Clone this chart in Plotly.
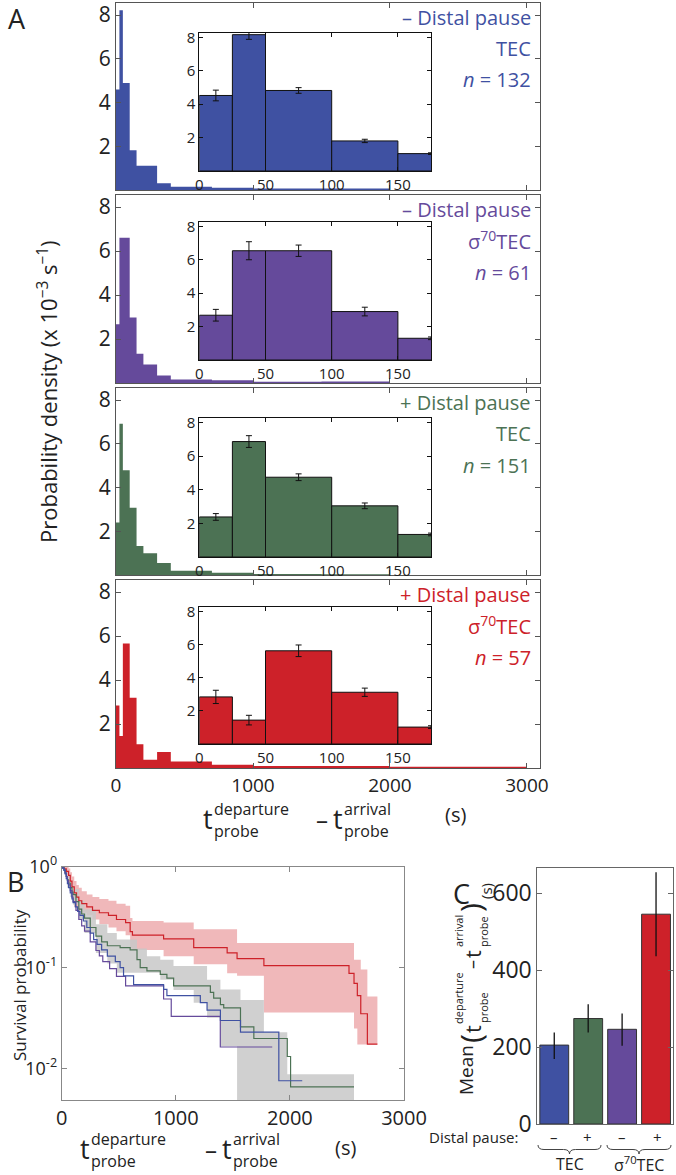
import plotly.graph_objects as go

W, H = 676, 1175
FONT = "Open Sans"
INK = "#222222"

# ---------------- data ----------------
pause_labels = ["– Distal pause", "– Distal pause", "+ Distal pause", "+ Distal pause"]
complex_labels = ["TEC", "σ<sup>70</sup>TEC", "TEC", "σ<sup>70</sup>TEC"]
n_values = [132, 61, 151, 57]
colors = ["#3F51A2", "#654A9B", "#4C7254", "#CD2129"]

# main histograms (density, x 1e-3 s^-1)
hist_edges = [0, 25, 50, 100, 150, 200, 300, 400, 700, 1000, 1500, 2000, 3000]
tec_minus = [4.59, 8.22, 4.89, 1.82, 1.11, 1.11, 0.31, 0.15, 0.10, 0.07, 0.07, 0.0]
sig_minus = [2.67, 6.61, 6.61, 2.98, 1.33, 0.84, 0.34, 0.16, 0.12, 0.06, 0.07, 0.0]
tec_plus = [2.40, 6.92, 4.79, 3.07, 1.33, 0.99, 0.55, 0.19, 0.10, 0.05, 0.04, 0.0]
sig_plus = [2.84, 1.45, 5.66, 3.19, 1.08, 0.37, 0.73, 0.30, 0.15, 0.09, 0.09, 0.06]
hist_density = [tec_minus, sig_minus, tec_plus, sig_plus]

# insets
inset_edges = [0, 25, 50, 100, 150, 200]
tec_minus_in = [4.52, 8.16, 4.82, 1.80, 1.04]
tec_minus_err = [0.32, 0.28, 0.17, 0.10, 0.05]
sig_minus_in = [2.68, 6.54, 6.54, 2.90, 1.30]
sig_minus_err = [0.35, 0.54, 0.34, 0.26, 0.08]
tec_plus_in = [2.38, 6.86, 4.74, 3.04, 1.34]
tec_plus_err = [0.20, 0.35, 0.20, 0.17, 0.08]
sig_plus_in = [2.84, 1.44, 5.62, 3.12, 1.02]
sig_plus_err = [0.40, 0.29, 0.35, 0.25, 0.08]
inset_density = [tec_minus_in, sig_minus_in, tec_plus_in, sig_plus_in]
inset_err = [tec_minus_err, sig_minus_err, tec_plus_err, sig_plus_err]

# survival curves (Kaplan-Meier steps)
blue_t = [0, 10, 20, 30, 40, 50, 60, 75, 90, 100, 120, 140, 160, 190, 220, 250, 280, 310, 350,
          400, 470, 512, 542, 630, 893, 922, 1215, 1274, 1391, 1567, 1903, 2108]
blue_s = [1, 0.97, 0.92, 0.85, 0.76, 0.68, 0.62, 0.55, 0.48, 0.44, 0.40, 0.36, 0.33, 0.29, 0.25,
          0.22, 0.19, 0.17, 0.15, 0.13, 0.115, 0.10, 0.083, 0.068, 0.061, 0.053, 0.045, 0.038,
          0.030, 0.023, 0.0076, 0.0076]
purple_t = [0, 10, 20, 30, 40, 50, 60, 75, 90, 100, 125, 150, 175, 200, 250, 300, 330, 360, 420,
            480, 560, 893, 960, 1390, 1845]
purple_s = [1, 0.97, 0.93, 0.87, 0.80, 0.73, 0.66, 0.58, 0.50, 0.45, 0.37, 0.30, 0.26, 0.23, 0.18,
            0.148, 0.131, 0.115, 0.098, 0.082, 0.066, 0.049, 0.033, 0.0164, 0.0164]
green_t = [0, 10, 20, 30, 40, 50, 60, 75, 90, 100, 125, 150, 175, 200, 250, 300, 350, 400, 512,
           600, 660, 688, 747, 864, 922, 981, 1303, 1332, 1391, 1420, 1567, 1684, 1977, 2006, 2562]
green_s = [1, 0.97, 0.93, 0.87, 0.80, 0.74, 0.69, 0.62, 0.56, 0.53, 0.45, 0.38, 0.34, 0.31, 0.25,
           0.205, 0.18, 0.165, 0.158, 0.15, 0.12, 0.10, 0.093, 0.086, 0.079, 0.066, 0.057, 0.050,
           0.043, 0.040, 0.026, 0.0199, 0.0132, 0.0066, 0.0066]
red_t = [0, 20, 40, 60, 75, 90, 110, 130, 150, 176, 220, 270, 330, 410, 480, 560, 600, 620, 893,
         1157, 1450, 1537, 1772, 2518, 2562, 2591, 2621, 2679, 2767]
red_s = [1, 0.95, 0.90, 0.82, 0.72, 0.63, 0.55, 0.50, 0.46, 0.43, 0.40, 0.37, 0.35, 0.33, 0.30,
         0.28, 0.228, 0.21, 0.193, 0.158, 0.14, 0.123, 0.105, 0.088, 0.070, 0.053, 0.035, 0.0175,
         0.0175]
red_hi = [1, 1, 1, 0.96, 0.88, 0.80, 0.72, 0.66, 0.62, 0.57, 0.53, 0.50, 0.48, 0.46, 0.43, 0.41,
          0.31, 0.29, 0.28, 0.24, 0.24, 0.176, 0.176, 0.176, 0.12, 0.12, 0.096, 0.052, 0.052]
red_lo = [1, 0.88, 0.80, 0.70, 0.60, 0.50, 0.40, 0.38, 0.36, 0.35, 0.33, 0.30, 0.27, 0.25, 0.23,
          0.21, 0.155, 0.15, 0.13, 0.108, 0.088, 0.083, 0.036, 0.036, 0.025, 0.0174, 0.0174,
          0.0174, 0.0174]
gray_t = [0, 25, 50, 75, 100, 150, 200, 300, 400, 483, 660, 747, 864, 980, 1157, 1274, 1391,
          1537, 1567, 1772, 1977, 2562]
gray_hi = [1, 0.95, 0.82, 0.68, 0.60, 0.46, 0.38, 0.27, 0.22, 0.19, 0.155, 0.13, 0.12, 0.104,
           0.104, 0.076, 0.061, 0.061, 0.048, 0.023, 0.0088, 0.0088]
gray_lo = [1, 0.85, 0.62, 0.50, 0.42, 0.30, 0.22, 0.14, 0.11, 0.089, 0.089, 0.089, 0.076, 0.060,
           0.045, 0.032, 0.0167, 0.001, 0.001, 0.001, 0.001, 0.001]

# panel C
bar_signs = ["–", "+", "–", "+"]
bar_means = [205, 274, 246, 545]
bar_err_plus = [33, 37, 41, 109]
bar_err_minus = [36, 36, 43, 109]
bar_colors = [colors[0], colors[2], colors[1], colors[3]]

# ---------------- helpers ----------------
def px(x):
    return x / W


def py(y):
    return 1 - y / H


def ann(text, x, y, size, color=INK, xanchor="center", yanchor="middle", angle=0):
    return dict(text=text, x=px(x), y=py(y), xref="paper", yref="paper", showarrow=False,
                font=dict(family=FONT, size=size, color=color), xanchor=xanchor,
                yanchor=yanchor, textangle=angle, borderpad=0)


def axis(dom, anchor, **kw):
    base = dict(domain=dom, anchor=anchor, showline=True, linecolor="#555", linewidth=1,
                mirror="ticks", ticks="inside", ticklen=5, tickcolor="#555", showgrid=False,
                zeroline=False, automargin=False, ticklabeloverflow="allow",
                tickfont=dict(family=FONT, size=20, color=INK))
    base.update(kw)
    return base


fig = go.Figure()
layout = {}
annotations = []
shapes = []

panel_px = [(3, 190), (195, 383), (388, 575), (580, 768)]
inset_px = [(33, 171), (222, 360), (418, 557), (607, 744)]
main_x = [px(116), px(540)]
inset_x = [px(199.3), px(431)]

for i in range(4):
    k = i + 1
    ki = i + 5
    top, bot = panel_px[i]
    # main histogram as a filled step curve
    fig.add_trace(go.Scatter(x=hist_edges, y=hist_density[i] + [0], mode="lines",
                             line=dict(shape="hv", width=0, color=colors[i]), fill="tozeroy",
                             fillcolor=colors[i], xaxis=f"x{k}", yaxis=f"y{k}",
                             hoverinfo="skip"))
    layout[f"xaxis{k}"] = axis(main_x, f"y{k}", range=[0, 3095], tickvals=[0, 1000, 2000, 3000],
                               showticklabels=(i == 3),
                               tickfont=dict(family=FONT, size=19, color=INK))
    layout[f"yaxis{k}"] = axis([py(bot), py(top)], f"x{k}", range=[0, 8.55], tickvals=[2, 4, 6, 8],
                               tickfont=dict(family=FONT, size=21, color=INK))
    # inset
    edges = inset_edges
    centers = [(edges[j] + edges[j + 1]) / 2 for j in range(len(edges) - 1)]
    widths = [edges[j + 1] - edges[j] for j in range(len(edges) - 1)]
    fig.add_trace(go.Bar(x=centers, y=inset_density[i], width=widths,
                         marker=dict(color=colors[i], line=dict(color="#111", width=1)),
                         error_y=dict(type="data", array=inset_err[i], color="#111",
                                      thickness=1, width=3),
                         xaxis=f"x{ki}", yaxis=f"y{ki}", hoverinfo="skip"))
    itop, ibot = inset_px[i]
    layout[f"xaxis{ki}"] = axis(inset_x, f"y{ki}", range=[0, 175], tickvals=[0, 50, 100, 150],
                                linecolor="#111", tickcolor="#111", ticklen=4,
                                tickfont=dict(family=FONT, size=15, color=INK))
    layout[f"yaxis{ki}"] = axis([py(ibot), py(itop)], f"x{ki}", range=[0, 8.26],
                                tickvals=[2, 4, 6, 8], linecolor="#111", tickcolor="#111",
                                ticklen=4, tickfont=dict(family=FONT, size=15, color=INK))
    # labels
    annotations.append(ann(pause_labels[i], 532, top + 14, 20, colors[i], xanchor="right"))
    annotations.append(ann(complex_labels[i], 532, top + 45.5, 20, colors[i], xanchor="right"))
    annotations.append(ann(f"<i>n</i> = {n_values[i]}", 532, top + 77, 20, colors[i],
                           xanchor="right"))

# ---- panel B ----
fig.add_trace(go.Scatter(x=red_t, y=red_hi, mode="lines", line=dict(shape="hv", width=0),
                         xaxis="x9", yaxis="y9", hoverinfo="skip"))
fig.add_trace(go.Scatter(x=red_t, y=red_lo, mode="lines", line=dict(shape="hv", width=0),
                         fill="tonexty", fillcolor="#F0B8BA", xaxis="x9", yaxis="y9",
                         hoverinfo="skip"))
fig.add_trace(go.Scatter(x=gray_t, y=gray_hi, mode="lines", line=dict(shape="hv", width=0),
                         xaxis="x9", yaxis="y9", hoverinfo="skip"))
fig.add_trace(go.Scatter(x=gray_t, y=gray_lo, mode="lines", line=dict(shape="hv", width=0),
                         fill="tonexty", fillcolor="rgba(200,200,200,0.85)", xaxis="x9",
                         yaxis="y9", hoverinfo="skip"))
for t, s, c in [(red_t, red_s, colors[3]), (green_t, green_s, colors[2]),
                (purple_t, purple_s, colors[1]), (blue_t, blue_s, colors[0])]:
    fig.add_trace(go.Scatter(x=t, y=s, mode="lines", line=dict(shape="hv", width=1.2, color=c),
                             xaxis="x9", yaxis="y9", hoverinfo="skip"))
layout["xaxis9"] = axis([px(61.7), px(404)], "y9", range=[0, 3000],
                        tickvals=[0, 1000, 2000, 3000], linecolor="#888", tickcolor="#888")
layout["yaxis9"] = axis([py(1100), py(866.7)], "x9", type="log", range=[-2.31, 0],
                        tickvals=[1, 0.1, 0.01],
                        ticktext=["10<sup>0</sup>", "10<sup>-1</sup>", "10<sup>-2</sup>"],
                        linecolor="#888", tickcolor="#888",
                        tickfont=dict(family=FONT, size=18, color=INK))

# ---- panel C ----
fig.add_trace(go.Bar(x=[0, 1, 2, 3], y=bar_means, width=0.85,
                     marker=dict(color=bar_colors, line=dict(color="#333", width=1)),
                     error_y=dict(type="data", symmetric=False, array=bar_err_plus,
                                  arrayminus=bar_err_minus, color="#111", thickness=1.3, width=0),
                     xaxis="x10", yaxis="y10", hoverinfo="skip"))
layout["xaxis10"] = axis([px(537.3), px(673)], "y10", range=[-0.5, 3.5], showticklabels=False,
                         ticks="", linecolor="#666")
layout["yaxis10"] = axis([py(1124), py(868)], "x10", range=[0, 665], tickvals=[0, 200, 400, 600],
                         linecolor="#666", tickcolor="#666",
                         tickfont=dict(family=FONT, size=23, color=INK))

bar_x_px = [554, 587, 621.5, 657]
annotations.append(ann("Distal pause:", 519, 1137, 15, xanchor="right"))
for xp, sgn in zip(bar_x_px, bar_signs):
    annotations.append(ann(sgn, xp, 1137, 15))
annotations.append(ann("TEC", 570, 1164, 16))
annotations.append(ann("σ<sup>70</sup>TEC", 639, 1164, 16))


def brace(x0, x1, ytop, ybot):
    xm = (x0 + x1) / 2
    ym = (ytop + ybot) / 2
    pts = (f"M {px(x0)},{py(ytop)} Q {px(x0)},{py(ym)} {px(x0 + 6)},{py(ym)} "
           f"L {px(xm - 6)},{py(ym)} Q {px(xm)},{py(ym)} {px(xm)},{py(ybot)} "
           f"Q {px(xm)},{py(ym)} {px(xm + 6)},{py(ym)} L {px(x1 - 6)},{py(ym)} "
           f"Q {px(x1)},{py(ym)} {px(x1)},{py(ytop)}")
    return dict(type="path", path=pts, xref="paper", yref="paper",
                line=dict(color="#444", width=1))


shapes.append(brace(538, 601, 1145, 1154))
shapes.append(brace(607, 671, 1145, 1154))

# ---- axis titles ----
annotations.append(ann("Probability density (x 10<sup>−3</sup> s<sup>−1</sup>)", 47, 392, 22,
                       angle=-90))
annotations.append(ann("Survival probability", 19, 985, 17, angle=-90))


def t_title(x_t, y, x_dash):
    out = []
    out.append(ann("t", x_t, y + 3, 27))
    out.append(ann("departure", x_t + 5, y - 18, 16, xanchor="left", yanchor="top"))
    out.append(ann("probe", x_t + 5, y + 16, 16, xanchor="left"))
    out.append(ann("–", x_dash, y + 4, 24))
    out.append(ann("t", x_dash + 16, y + 3, 27))
    out.append(ann("arrival", x_dash + 21, y - 18, 16, xanchor="left", yanchor="top"))
    out.append(ann("probe", x_dash + 21, y + 16, 16, xanchor="left"))
    return out


annotations += t_title(208, 815, 322)
annotations.append(ann("(s)", 455, 814, 20))
annotations += t_title(85, 1145, 211)
annotations.append(ann("(s)", 345, 1147, 20))

# C y-title (rotated pieces, reading bottom to top)
annotations.append(ann("Mean", 466, 1070, 19, angle=-90))
annotations.append(ann("(", 470, 1039, 30, angle=-90))
annotations.append(ann("t", 472, 1029, 22, angle=-90))
annotations.append(ann("departure", 458, 998, 11, angle=-90))
annotations.append(ann("probe", 483, 1008, 11, angle=-90))
annotations.append(ann("–", 472, 965, 18, angle=-90))
annotations.append(ann("t", 472, 954, 22, angle=-90))
annotations.append(ann("arrival", 458, 931, 11, angle=-90))
annotations.append(ann("probe", 483, 932, 11, angle=-90))
annotations.append(ann(")", 470, 908, 30, angle=-90))
annotations.append(ann("(s)", 486, 891, 15, angle=-90))

# panel letters
annotations.append(ann("A", 17, 18, 27))
annotations.append(ann("B", 15, 882, 27))
annotations.append(ann("C", 461, 893, 27))

fig.update_layout(width=W, height=H, margin=dict(l=0, r=0, t=0, b=0, autoexpand=False),
                  showlegend=False, paper_bgcolor="white", plot_bgcolor="white",
                  annotations=annotations, shapes=shapes, bargap=0,
                  font=dict(family=FONT, color=INK), **layout)

fig.write_html("out.html", config={"displayModeBar": False, "staticPlot": True},
               post_script="document.body.style.margin='0';document.body.style.overflow='hidden';")
